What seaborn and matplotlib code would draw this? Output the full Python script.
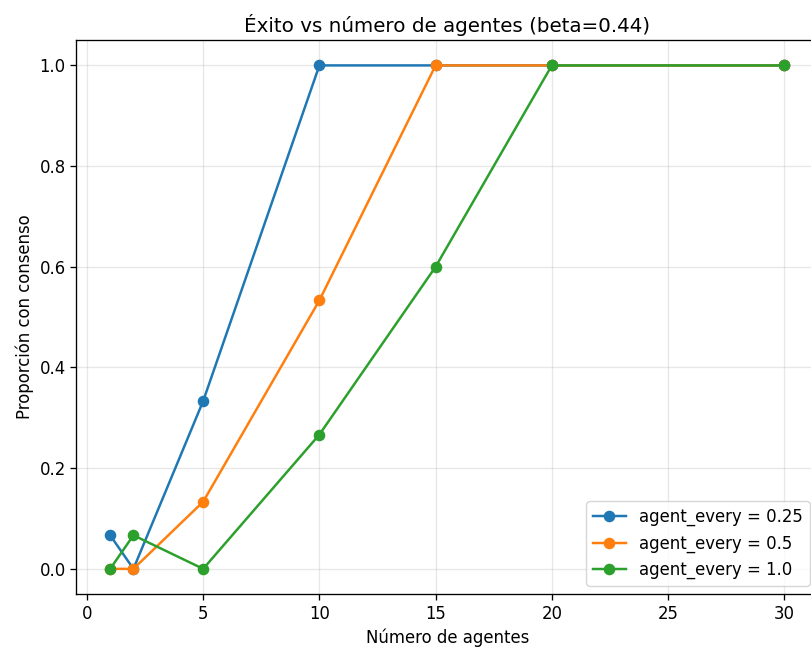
import matplotlib
matplotlib.use("Agg")
import matplotlib.pyplot as plt
import pandas as pd
import seaborn as sns

n_agents = [1, 2, 5, 10, 15, 20, 30]
every_025 = [0.0667, 0.0, 0.3333, 1.0, 1.0, 1.0, 1.0]
every_05 = [0.0, 0.0, 0.1333, 0.5333, 1.0, 1.0, 1.0]
every_10 = [0.0, 0.0667, 0.0, 0.2667, 0.6, 1.0, 1.0]

series = {"0.25": every_025, "0.5": every_05, "1.0": every_10}
colors = ["#1f77b4", "#ff7f0e", "#2ca02c"]

# the original was rendered larger and scaled down, so everything is ~1.19x
s = 1.19
plt.rcParams.update({
    "font.size": 10 * s,
    "axes.linewidth": 0.8 * s,
    "xtick.major.width": 0.8 * s,
    "ytick.major.width": 0.8 * s,
    "xtick.major.size": 3.5 * s,
    "ytick.major.size": 3.5 * s,
    "grid.linewidth": 0.8 * s,
})

fig = plt.figure(figsize=(8.11, 6.49), dpi=100)
ax = fig.add_axes([0.0943, 0.0847, 0.9143, 0.8533])

for (name, vals), c in zip(series.items(), colors):
    df = pd.DataFrame({"n": n_agents, "p": vals})
    sns.lineplot(data=df, x="n", y="p", ax=ax, color=c, marker="o",
                 markersize=6 * s, markeredgecolor=c, markeredgewidth=1 * s,
                 linewidth=1.5 * s, label=f"agent_every = {name}")

ax.set_title("Éxito vs número de agentes (beta=0.44)", fontsize=12 * s)
ax.set_xlabel("Número de agentes")
ax.set_ylabel("Proporción con consenso")
ax.grid(True, alpha=0.3)
ax.legend(loc="lower right")

plt.savefig("out.png", dpi=100)
